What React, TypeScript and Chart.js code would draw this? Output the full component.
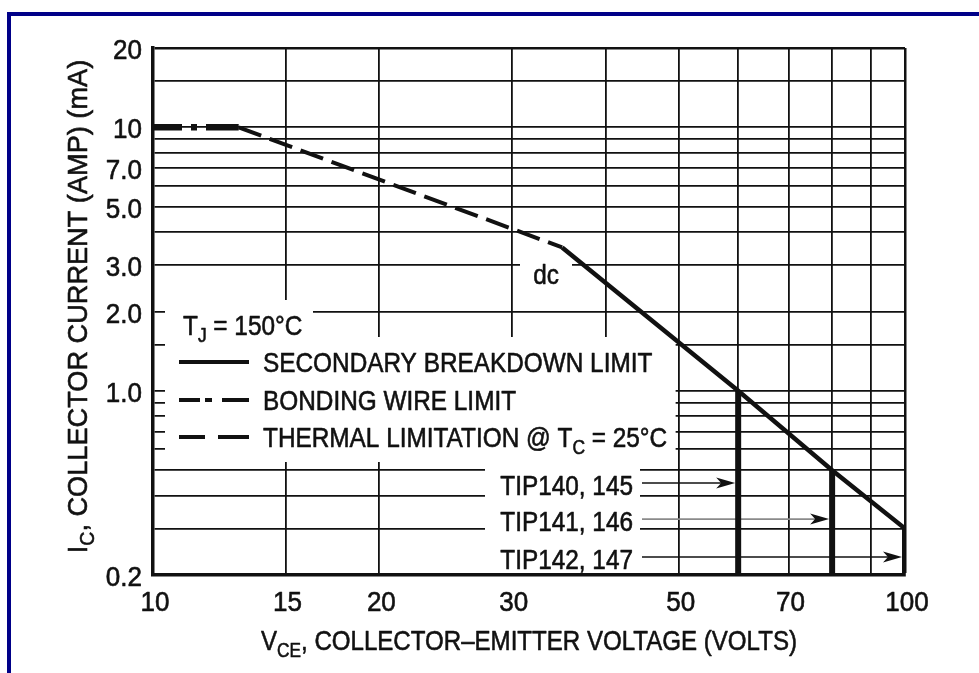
import React, { useEffect, useRef } from "react";
import { Chart, registerables } from "chart.js";

Chart.register(...registerables);

const FONT = "'Liberation Sans', Arial, Helvetica, sans-serif";
const INK = "#111111";

// Safe operating area boundaries (V_CE in volts, I_C in amps)
const bondingVolts = [10, 13];
const bondingAmps = [10, 10];
const thermalVolts = [13, 35];
const thermalAmps = [10, 3.5];
const breakdownVolts = [35, 60, 80, 100];
const breakdownAmps = [3.5, 1.0, 0.5, 0.3];

// Maximum V_CE rating for each device pair
const deviceLabels = ["TIP140, 145", "TIP141, 146", "TIP142, 147"];
const deviceVolts = [60, 80, 100];
const deviceAmps = [1.0, 0.5, 0.3];
const deviceArrowAmps = [0.447, 0.326, 0.234];
const deviceArrowColors = ["#111111", "#8a8a8a", "#111111"];

// Grid lines and their labels
const xGridValues = [10, 15, 20, 30, 40, 50, 60, 70, 80, 90, 100];
const xTickLabels = ["10", "15", "20", "30", "", "50", "", "70", "", "", "100"];
const yGridValues = [0.2, 0.3, 0.4, 0.5, 0.6, 0.7, 0.8, 0.9, 1, 1.5, 2, 3, 4, 5, 6, 7, 8, 9, 10, 15, 20];
const yTickLabels = ["0.2", "", "", "", "", "", "", "", "1.0", "", "2.0", "3.0", "", "5.0", "", "7.0", "", "", "10", "", "20"];

const X_MIN = 10;
const X_MAX = 100;
const Y_MIN = 0.2;
const Y_MAX = 20;

const SIZE = 28;
// horizontal condensing applied to the lettering
const SX_TICK = 0.93;
const SX_TEXT = 0.87;
const SX_XTITLE = 0.86;
const SX_YTITLE = 0.97;

const pts = (xs: number[], ys: number[]) => xs.map((x, i) => ({ x, y: ys[i] }));

type Part = { text: string; sub?: boolean };

function partFont(p: Part, size: number) {
  return `${p.sub ? Math.round(size * 0.72) : size}px ${FONT}`;
}

function richWidth(ctx: CanvasRenderingContext2D, parts: Part[], size: number, sx: number) {
  let w = 0;
  for (const p of parts) {
    ctx.font = partFont(p, size);
    w += ctx.measureText(p.text).width;
  }
  return w * sx;
}

// Draws a run of text (with optional subscripts) starting at x, with caps centred on mid.
function drawRich(
  ctx: CanvasRenderingContext2D,
  parts: Part[],
  x: number,
  mid: number,
  size: number,
  sx: number,
  align: "left" | "center" | "right" = "left"
) {
  const w = richWidth(ctx, parts, size, sx);
  const start = align === "left" ? x : align === "center" ? x - w / 2 : x - w;
  const base = mid + size * 0.36;
  ctx.save();
  ctx.translate(start, 0);
  ctx.scale(sx, 1);
  ctx.textAlign = "left";
  ctx.textBaseline = "alphabetic";
  ctx.strokeStyle = ctx.fillStyle;
  ctx.lineWidth = 0.6;
  ctx.lineJoin = "round";
  ctx.setLineDash([]);
  let cx = 0;
  for (const p of parts) {
    ctx.font = partFont(p, size);
    const ty = p.sub ? base + size * 0.26 : base;
    ctx.fillText(p.text, cx, ty);
    ctx.strokeText(p.text, cx, ty);
    cx += ctx.measureText(p.text).width;
  }
  ctx.restore();
}

const annotations = {
  id: "soaAnnotations",
  beforeDatasetsDraw(chart: any) {
    const { ctx, chartArea: a, scales } = chart;
    const xs = scales.x;
    const ys = scales.y;
    const ox = a.left;
    const oy = a.top;
    ctx.save();

    // white backing behind the legend and labels
    ctx.fillStyle = "#ffffff";
    ctx.fillRect(ox + 12, oy + 252, 148, 38);
    ctx.fillRect(ox + 12, oy + 289, xs.getPixelForValue(50) - 3 - (ox + 12), 125);
    ctx.fillRect(ox + 332, oy + 414, 155, a.bottom - 2 - (oy + 414));
    ctx.fillRect(ox + 367, oy + 210, 52, 26);

    ctx.fillStyle = INK;
    ctx.strokeStyle = INK;

    // dc label
    drawRich(ctx, [{ text: "dc" }], ox + 393, oy + 226, SIZE, SX_TEXT, "center");

    // junction temperature
    drawRich(ctx, [{ text: "T" }, { text: "J", sub: true }, { text: " = 150°C" }], ox + 30, oy + 277, SIZE, SX_TEXT);

    // legend rows
    const sx0 = ox + 26;
    const sx1 = ox + 96;
    const rows = [
      { y: oy + 314, dash: [] as number[], parts: [{ text: "SECONDARY BREAKDOWN LIMIT" }] },
      { y: oy + 352, dash: [21, 5, 7, 10, 60], parts: [{ text: "BONDING WIRE LIMIT" }] },
      {
        y: oy + 389,
        dash: [26, 13, 60],
        parts: [{ text: "THERMAL LIMITATION @ T" }, { text: "C", sub: true }, { text: " = 25°C" }],
      },
    ];
    for (const r of rows) {
      ctx.strokeStyle = INK;
      ctx.lineWidth = 4;
      ctx.lineCap = "butt";
      ctx.setLineDash(r.dash);
      ctx.beginPath();
      ctx.moveTo(sx0, r.y);
      ctx.lineTo(sx1, r.y);
      ctx.stroke();
      ctx.setLineDash([]);
      drawRich(ctx, r.parts, ox + 110, r.y, SIZE, SX_TEXT);
    }

    // device labels with arrows to their voltage limits
    deviceLabels.forEach((label, i) => {
      const yy = ys.getPixelForValue(deviceArrowAmps[i]);
      ctx.fillStyle = INK;
      drawRich(ctx, [{ text: label }], ox + 480, yy + 2, SIZE, SX_TEXT, "right");

      const xEnd = xs.getPixelForValue(deviceVolts[i]) - 3;
      ctx.strokeStyle = deviceArrowColors[i];
      ctx.lineWidth = 1.6;
      ctx.beginPath();
      ctx.moveTo(ox + 489, yy);
      ctx.lineTo(xEnd - 12, yy);
      ctx.stroke();
      ctx.fillStyle = "#111111";
      ctx.beginPath();
      ctx.moveTo(xEnd, yy);
      ctx.lineTo(xEnd - 19, yy - 5.5);
      ctx.lineTo(xEnd - 14, yy);
      ctx.lineTo(xEnd - 19, yy + 5.5);
      ctx.closePath();
      ctx.fill();
    });

    ctx.restore();
  },
  afterDraw(chart: any) {
    const { ctx, chartArea: a, scales } = chart;
    const xs = scales.x;
    const ys = scales.y;
    ctx.save();
    ctx.fillStyle = INK;

    // tick labels
    xGridValues.forEach((v, i) => {
      if (!xTickLabels[i]) return;
      drawRich(ctx, [{ text: xTickLabels[i] }], xs.getPixelForValue(v) + 2, a.bottom + 26, SIZE, SX_TICK, "center");
    });
    yGridValues.forEach((v, i) => {
      if (!yTickLabels[i]) return;
      drawRich(ctx, [{ text: yTickLabels[i] }], a.left - 11, ys.getPixelForValue(v) + 1, SIZE, SX_TICK, "right");
    });

    // axis titles
    const xParts: Part[] = [
      { text: "V" },
      { text: "CE", sub: true },
      { text: ", COLLECTOR–EMITTER VOLTAGE (VOLTS)" },
    ];
    drawRich(ctx, xParts, (a.left + a.right) / 2, 640, SIZE, SX_XTITLE, "center");

    const yParts: Part[] = [
      { text: "I" },
      { text: "C", sub: true },
      { text: ", COLLECTOR CURRENT (AMP) (mA)" },
    ];
    ctx.translate(77, (a.top + a.bottom) / 2 - 5);
    ctx.rotate(-Math.PI / 2);
    drawRich(ctx, yParts, 0, 0, SIZE, SX_YTITLE, "center");
    ctx.restore();
  },
};

export default function App() {
  const ref = useRef<HTMLCanvasElement>(null);

  useEffect(() => {
    const line = (data: { x: number; y: number }[], width: number, dash: number[] = []) => ({
      data,
      showLine: true,
      borderColor: INK,
      backgroundColor: INK,
      borderWidth: width,
      borderDash: dash,
      borderCapStyle: "butt",
      borderJoinStyle: "miter",
      pointRadius: 0,
      tension: 0,
    });

    const gridWidth = (edge: number) => (c: any) => (c.tick && c.tick.value === edge ? 2.5 : 1.8);

    const chart = new Chart(ref.current as HTMLCanvasElement, {
      type: "scatter",
      data: {
        datasets: [
          line(pts(bondingVolts, bondingAmps), 6.5, [29, 9, 6, 9, 60]),
          line(pts(thermalVolts, thermalAmps), 4, [24, 9]),
          line(pts(breakdownVolts, breakdownAmps), 4.5),
          ...deviceVolts.map((v, i) =>
            line(
              [
                { x: v, y: Y_MIN },
                { x: v, y: deviceAmps[i] },
              ],
              6
            )
          ),
        ] as any,
      },
      options: {
        responsive: false,
        animation: false,
        devicePixelRatio: 1,
        layout: { padding: { top: 48, right: 74, left: 0, bottom: 0 } },
        plugins: { legend: { display: false }, tooltip: { enabled: false } },
        scales: {
          x: {
            type: "logarithmic",
            min: X_MIN,
            max: X_MAX,
            afterBuildTicks: (s: any) => {
              s.ticks = xGridValues.map((v) => ({ value: v }));
            },
            afterFit: (s: any) => {
              s.height = 98;
            },
            grid: { color: INK, lineWidth: gridWidth(X_MAX), drawTicks: false },
            border: { color: INK, width: 3.5 },
            ticks: { display: false, autoSkip: false },
          },
          y: {
            type: "logarithmic",
            min: Y_MIN,
            max: Y_MAX,
            afterBuildTicks: (s: any) => {
              s.ticks = yGridValues.map((v) => ({ value: v }));
            },
            afterFit: (s: any) => {
              s.width = 153;
            },
            grid: { color: INK, lineWidth: gridWidth(Y_MAX), drawTicks: false },
            border: { color: INK, width: 3.5 },
            ticks: { display: false, autoSkip: false },
          },
        },
      } as any,
      plugins: [annotations],
    });
    return () => chart.destroy();
  }, []);

  return (
    <div
      style={{
        position: "fixed",
        left: 0,
        top: 0,
        width: 979,
        height: 673,
        background: "#ffffff",
        overflow: "hidden",
      }}
    >
      <canvas ref={ref} width={979} height={673} style={{ position: "absolute", left: 0, top: 0 }} />
      <div
        style={{
          position: "absolute",
          left: 7,
          top: 12,
          width: 1000,
          height: 700,
          borderLeft: "4px solid #000088",
          borderTop: "4px solid #000088",
          pointerEvents: "none",
        }}
      />
    </div>
  );
}
